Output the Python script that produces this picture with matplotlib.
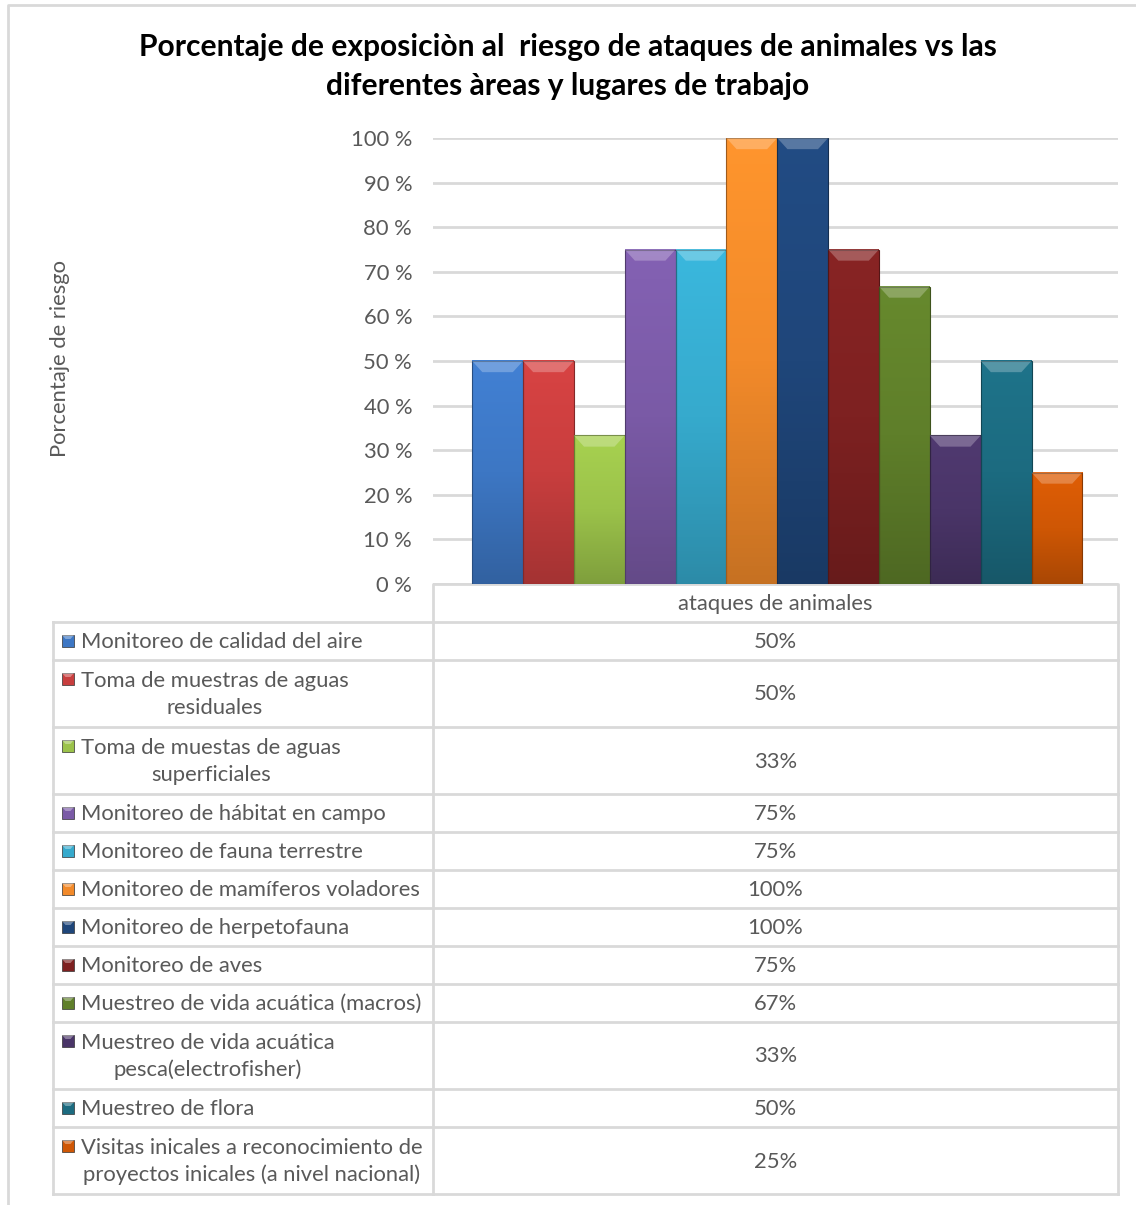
import matplotlib
matplotlib.use("Agg")
import matplotlib.pyplot as plt
import numpy as np
from matplotlib.colors import LinearSegmentedColormap, to_rgb
from matplotlib.patches import Polygon, Rectangle

plt.rcParams["font.family"] = ["Lato", "DejaVu Sans"]

# datos
areas = [
    "Monitoreo de calidad del aire",
    "Toma de muestras de aguas\nresiduales",
    "Toma de muestas de aguas\nsuperficiales",
    "Monitoreo de hábitat en campo",
    "Monitoreo de fauna terrestre",
    "Monitoreo de mamíferos voladores",
    "Monitoreo de herpetofauna",
    "Monitoreo de aves",
    "Muestreo de vida acuática (macros)",
    "Muestreo de vida acuática\npesca(electrofisher)",
    "Muestreo de flora",
    "Visitas inicales a reconocimiento de\nproyectos inicales (a nivel nacional)",
]
riesgo = [50, 50, 33.3, 75, 75, 100, 100, 75, 66.7, 33.3, 50, 25]
etiquetas = ["50%", "50%", "33%", "75%", "75%", "100%", "100%", "75%", "67%", "33%", "50%", "25%"]
colores = ["#3D77C4", "#C83E3E", "#9BC24A", "#7A5AA6", "#36AACD", "#F28A2A",
           "#1F467A", "#7E2121", "#5F7F2A", "#4A3568", "#1C6B80", "#CF5705"]
categoria = "ataques de animales"

W, H = 1136, 1205
fig = plt.figure(figsize=(W / 100, H / 100), dpi=100)
gris = "#595959"
linea = "#D9D9D9"
fs = 15.8

# tabla / marco en pixeles
ov = fig.add_axes([0, 0, 1, 1])
ov.set_xlim(0, W)
ov.set_ylim(H, 0)
ov.axis("off")

x_tab, x_div, x_der = 53, 433, 1118
y0_ax, y100_ax = 584, 138
alturas = [67 if "\n" in a else 38 for a in areas]

# marco exterior
ov.plot([8, 8, W], [H, 5, 5], color=linea, lw=2)

# celda de cabecera
y_head_top, y_head_bot = y0_ax, 622
ov.plot([x_div, x_div, x_der, x_der], [y_head_bot, y_head_top, y_head_top, y_head_bot], color=linea, lw=2)
ov.text((x_div + x_der) / 2, (y_head_top + y_head_bot) / 2 + 1, categoria, ha="center", va="center",
        fontsize=fs, color=gris)

y = y_head_bot
for area, et, c, h in zip(areas, etiquetas, colores, alturas):
    ov.plot([x_tab, x_der], [y, y], color=linea, lw=2)
    yc = y + h / 2
    # marcador
    ov.add_patch(Rectangle((62, y + 13), 12, 12, facecolor=c, edgecolor="#333333", lw=0.5))
    ov.add_patch(Polygon([[62, y + 13], [74, y + 13], [70.5, y + 17], [65.5, y + 17]],
                         facecolor="white", alpha=0.35, lw=0))
    ov.text(81, yc + 1, area, ha="left", va="center", multialignment="center", fontsize=fs,
            color=gris, linespacing=1.38)
    ov.text((x_div + x_der) / 2, yc + 1, et, ha="center", va="center", fontsize=fs, color=gris)
    y += h
ov.plot([x_tab, x_der], [y, y], color=linea, lw=2)
ov.plot([x_tab, x_tab], [y_head_bot, y], color=linea, lw=2)
ov.plot([x_div, x_div], [y_head_bot, y], color=linea, lw=2)
ov.plot([x_der, x_der], [y_head_bot, y], color=linea, lw=2)

# grafico de barras
ax = fig.add_axes([x_div / W, 1 - y0_ax / H, (x_der - x_div) / W, (y0_ax - y100_ax) / H])
ax.patch.set_alpha(0)
pos = np.arange(len(riesgo))
for xi, v, c in zip(pos, riesgo, colores):
    rgb = np.array(to_rgb(c))
    claro = np.clip(rgb * 1.08, 0, 1)
    oscuro = rgb * 0.82
    cmap = LinearSegmentedColormap.from_list("g", [oscuro, rgb, claro])
    grad = np.linspace(0, 1, 100).reshape(-1, 1)
    ax.imshow(grad, extent=[xi - 0.5, xi + 0.5, 0, v], origin="lower", cmap=cmap,
              aspect="auto", zorder=2)
    ax.bar(xi, v, width=1.0, facecolor="none", edgecolor=oscuro * 0.8, lw=0.8, zorder=3)
    ax.add_patch(Polygon([[xi - 0.5, v], [xi + 0.5, v], [xi + 0.3, v - 2.5], [xi - 0.3, v - 2.5]],
                         facecolor="white", alpha=0.25, lw=0, zorder=4))
ax.set_xlim(-1.27, 12.2)
ax.set_ylim(0, 100)
ax.set_yticks(range(0, 101, 10))
ax.set_yticklabels([f"{t} %" for t in range(0, 101, 10)], fontsize=fs, color=gris)
ax.set_xticks([])
ax.tick_params(axis="y", length=0, pad=15)
for s in ax.spines.values():
    s.set_visible(False)
ax.grid(axis="y", color=linea, lw=2)
ax.set_axisbelow(True)
ax.set_ylabel("Porcentaje de riesgo", fontsize=fs, color=gris, labelpad=0)
ax.yaxis.set_label_coords(-(x_div - 70) / (x_der - x_div), 0.505)

fig.text(0.5, 1 - 47 / H, "Porcentaje de exposiciòn al  riesgo de ataques de animales vs las",
         ha="center", va="center", fontsize=21.6, fontweight="bold", color="black")
fig.text(0.5, 1 - 86 / H, "diferentes àreas y lugares de trabajo",
         ha="center", va="center", fontsize=21.6, fontweight="bold", color="black")

fig.savefig("out.png", dpi=100)
